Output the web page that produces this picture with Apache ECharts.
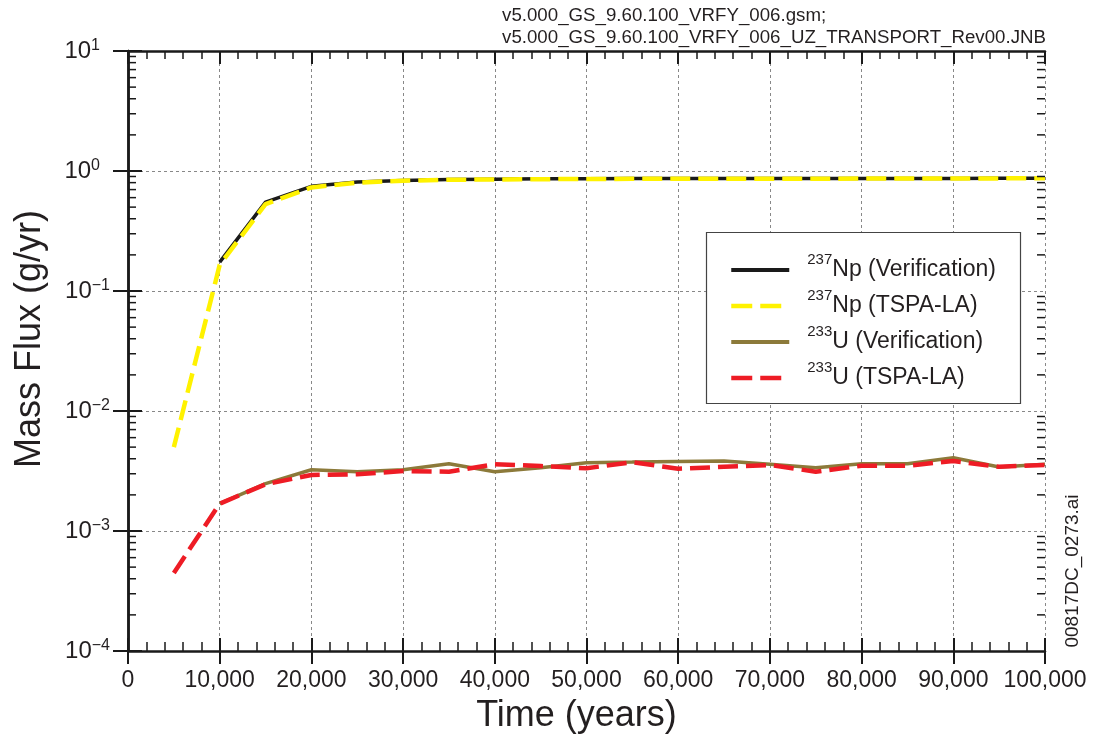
<!DOCTYPE html>
<html>
<head>
<meta charset="utf-8">
<script src="https://cdn.jsdelivr.net/npm/echarts@6/dist/echarts.min.js"></script>
<style>
  html, body { margin: 0; padding: 0; background: #fff; }
  #chart { width: 1099px; height: 744px; }
</style>
</head>
<body>
<div id="chart"></div>
<script>
// Simulation times (years)
const years = [5000, 10000, 15000, 20000, 25000, 30000, 35000, 40000, 45000, 50000,
               55000, 60000, 65000, 70000, 75000, 80000, 85000, 90000, 95000, 100000];

// Mass flux (g/yr)
const np237Verification = [null, 0.174, 0.55, 0.745, 0.81, 0.835, 0.848, 0.855, 0.86, 0.862,
                           0.864, 0.865, 0.866, 0.866, 0.866, 0.866, 0.867, 0.868, 0.87, 0.872];
const np237Tspa = [0.005, 0.165, 0.53, 0.73, 0.80, 0.83, 0.845, 0.85, 0.855, 0.858,
                   0.86, 0.862, 0.862, 0.863, 0.863, 0.864, 0.865, 0.866, 0.868, 0.87];
const u233Verification = [null, 1.69e-3, 2.48e-3, 3.24e-3, 3.12e-3, 3.24e-3, 3.64e-3, 3.12e-3, 3.37e-3, 3.71e-3,
                          3.75e-3, 3.8e-3, 3.83e-3, 3.6e-3, 3.37e-3, 3.64e-3, 3.64e-3, 4.08e-3, 3.42e-3, 3.6e-3];
const u233Tspa = [4.47e-4, 1.69e-3, 2.45e-3, 2.93e-3, 2.97e-3, 3.16e-3, 3.12e-3, 3.6e-3, 3.48e-3, 3.33e-3,
                  3.75e-3, 3.3e-3, 3.43e-3, 3.55e-3, 3.12e-3, 3.5e-3, 3.5e-3, 3.83e-3, 3.43e-3, 3.55e-3];

const seriesNames = ['237Np (Verification)', '237Np (TSPA-LA)', '233U (Verification)', '233U (TSPA-LA)'];
const fileLines = ['v5.000_GS_9.60.100_VRFY_006.gsm;', 'v5.000_GS_9.60.100_VRFY_006_UZ_TRANSPORT_Rev00.JNB'];
const figureId = '00817DC_0273.ai';

const FONT = '"Liberation Sans", Arial, Helvetica, sans-serif';
const INK = '#231f20';

// Log-axis minor tick positions (2..9 within each decade 1e-4 .. 1e0)
const yMinorTicks = [];
for (let e = -4; e < 1; e++) {
  for (let m = 2; m <= 9; m++) yMinorTicks.push(m * Math.pow(10, e));
}

function pairs(vals) { return years.map((x, i) => [x, vals[i]]); }

const GRID = { left: 128, top: 51, width: 917, height: 600 };
const chart = echarts.init(document.getElementById('chart'), null, { renderer: 'canvas' });

// "10" + superscript exponent; positive exponents are padded so every "10" lines up
function expLabel(v) {
  const e = Math.round(Math.log10(v));
  return e < 0 ? '{b|10}{sn|\u2212' + (-e) + '}' : '{b|10}{sp|' + e + '}';
}

const dash = [20, 8];
const legendDash = [21, 8, 21, 30];

chart.setOption({
  animation: false,
  backgroundColor: '#fff',
  textStyle: { fontFamily: FONT },
  grid: [
    Object.assign({}, GRID),
    Object.assign({}, GRID)
  ],
  xAxis: [
    {
      gridIndex: 0, type: 'value', position: 'bottom', min: 0, max: 100000, interval: 10000,
      name: 'Time (years)', nameLocation: 'middle', nameGap: 47,
      nameTextStyle: { fontSize: 36, color: INK, fontFamily: FONT, padding: [0, 20, 0, 0] },
      axisLine: { lineStyle: { color: '#1a1a1a', width: 2.5 } },
      axisTick: { inside: false, length: 13, lineStyle: { color: '#1a1a1a', width: 2 } },
      axisLabel: {
        fontSize: 23, color: INK, fontFamily: FONT, margin: 18,
        formatter: v => v.toLocaleString('en-US')
      },
      splitLine: { show: true, lineStyle: { color: '#888', type: [3, 3], width: 1 } }
    },
    {
      gridIndex: 0, type: 'value', position: 'top', min: 0, max: 100000, interval: 10000,
      axisLine: { lineStyle: { color: '#1a1a1a', width: 2.5 } },
      axisTick: { inside: true, length: 13, lineStyle: { color: '#1a1a1a', width: 2 } },
      minorTick: { show: true, splitNumber: 5, length: 8, lineStyle: { color: '#1a1a1a', width: 1.5 } },
      axisLabel: { show: false },
      splitLine: { show: false }
    },
    {
      gridIndex: 1, type: 'value', position: 'bottom', min: 0, max: 100000, interval: 10000,
      axisLine: { show: false },
      axisTick: { inside: true, length: 13, lineStyle: { color: '#1a1a1a', width: 2 } },
      minorTick: { show: true, splitNumber: 5, length: 9, lineStyle: { color: '#1a1a1a', width: 1.5 } },
      axisLabel: { show: false },
      splitLine: { show: false }
    }
  ],
  yAxis: [
    {
      gridIndex: 0, type: 'log', logBase: 10, min: 1e-4, max: 10, position: 'left',
      name: 'Mass Flux (g/yr)', nameLocation: 'middle', nameGap: 80,
      nameTextStyle: { fontSize: 36, color: INK, fontFamily: FONT, padding: [0, 0, 0, 24] },
      axisLine: { lineStyle: { color: '#1a1a1a', width: 2.5 } },
      axisTick: { inside: false, length: 15, lineStyle: { color: '#1a1a1a', width: 2 } },
      axisLabel: {
        margin: 18, color: INK, formatter: expLabel,
        rich: {
          b: { fontSize: 24, fontFamily: FONT, color: INK, lineHeight: 27 },
          sn: { fontSize: 16, fontFamily: FONT, color: INK, verticalAlign: 'top', lineHeight: 27 },
          sp: { fontSize: 16, fontFamily: FONT, color: INK, verticalAlign: 'top', lineHeight: 27, padding: [0, 10, 0, 0] }
        }
      },
      splitLine: { show: true, lineStyle: { color: '#888', type: [3, 3], width: 1 } }
    },
    {
      gridIndex: 0, type: 'log', logBase: 10, min: 1e-4, max: 10, position: 'right',
      axisLine: { lineStyle: { color: '#1a1a1a', width: 2.5 } },
      axisTick: { inside: true, length: 13, lineStyle: { color: '#1a1a1a', width: 2 } },
      axisLabel: { show: false },
      splitLine: { show: false }
    },
    {
      gridIndex: 1, type: 'log', logBase: 10, min: 1e-4, max: 10, position: 'left',
      axisLine: { show: false },
      axisTick: { inside: true, length: 14, lineStyle: { color: '#1a1a1a', width: 2 } },
      axisLabel: { show: false },
      splitLine: { show: false }
    }
  ],
  legend: {
    left: 729, top: 252, padding: 0, orient: 'vertical', itemGap: 0,
    itemWidth: 58, itemHeight: 14,
    itemStyle: { color: 'rgba(0,0,0,0)', borderColor: 'rgba(0,0,0,0)', borderWidth: 0, opacity: 0 },
    data: [
      { name: seriesNames[0], lineStyle: { width: 4 } },
      { name: seriesNames[1], lineStyle: { width: 4.5, type: legendDash } },
      { name: seriesNames[2], lineStyle: { width: 4 } },
      { name: seriesNames[3], lineStyle: { width: 4.5, type: legendDash } }
    ],
    formatter: name => {
      const m = name.match(/^(\d+)(.*)$/);
      return '{s|' + m[1] + '}{t|' + m[2] + '}';
    },
    textStyle: {
      fontFamily: FONT, color: INK, lineHeight: 36,
      rich: {
        s: { fontSize: 15, fontFamily: FONT, color: INK, verticalAlign: 'top', lineHeight: 28, padding: [0, 0, 0, 13] },
        t: { fontSize: 23, fontFamily: FONT, color: INK, lineHeight: 36 }
      }
    }
  },
  graphic: [
    {
      type: 'rect', silent: true, z: 1,
      shape: { x: 706.5, y: 232.5, width: 314, height: 171 },
      style: { fill: '#fff', stroke: '#444', lineWidth: 1.2 }
    },
    {
      type: 'text', silent: true, right: 53, top: 5,
      style: {
        text: fileLines.join('\n'), align: 'right', fontSize: 18.7, lineHeight: 22,
        fontFamily: FONT, fill: INK
      }
    },
    {
      type: 'text', silent: true, x: 1073, y: 571, rotation: Math.PI / 2,
      style: {
        text: figureId, align: 'center', verticalAlign: 'middle', fontSize: 19,
        fontFamily: FONT, fill: INK
      }
    }
  ],
  series: [
    {
      name: seriesNames[0], type: 'line', xAxisIndex: 0, yAxisIndex: 0, data: pairs(np237Verification),
      showSymbol: false, symbol: 'none', z: 3,
      lineStyle: { color: '#1a1a1a', width: 3.5 }, itemStyle: { color: '#1a1a1a' }
    },
    {
      name: seriesNames[1], type: 'line', xAxisIndex: 0, yAxisIndex: 0, data: pairs(np237Tspa),
      showSymbol: false, symbol: 'none', z: 4,
      lineStyle: { color: '#fff200', width: 4.5, type: dash }, itemStyle: { color: '#fff200' }
    },
    {
      name: seriesNames[2], type: 'line', xAxisIndex: 0, yAxisIndex: 0, data: pairs(u233Verification),
      showSymbol: false, symbol: 'none', z: 3,
      lineStyle: { color: '#8c7a3a', width: 3.5 }, itemStyle: { color: '#8c7a3a' }
    },
    {
      name: seriesNames[3], type: 'line', xAxisIndex: 0, yAxisIndex: 0, data: pairs(u233Tspa),
      showSymbol: false, symbol: 'none', z: 4,
      lineStyle: { color: '#ee1c25', width: 4.5, type: dash }, itemStyle: { color: '#ee1c25' }
    },
    {
      // minor log ticks on the left and right frame edges
      type: 'custom', xAxisIndex: 0, yAxisIndex: 0, silent: true, z: 5,
      data: yMinorTicks.map(v => [0, v]),
      renderItem: (params, api) => {
        const v = api.value(1);
        const l = api.coord([0, v]);
        const r = api.coord([100000, v]);
        const st = { stroke: '#1a1a1a', lineWidth: 1.5 };
        return {
          type: 'group',
          children: [
            { type: 'line', shape: { x1: l[0], y1: l[1], x2: l[0] + 8, y2: l[1] }, style: st },
            { type: 'line', shape: { x1: r[0] - 8, y1: r[1], x2: r[0], y2: r[1] }, style: st }
          ]
        };
      }
    }
  ]
});
</script>
</body>
</html>
